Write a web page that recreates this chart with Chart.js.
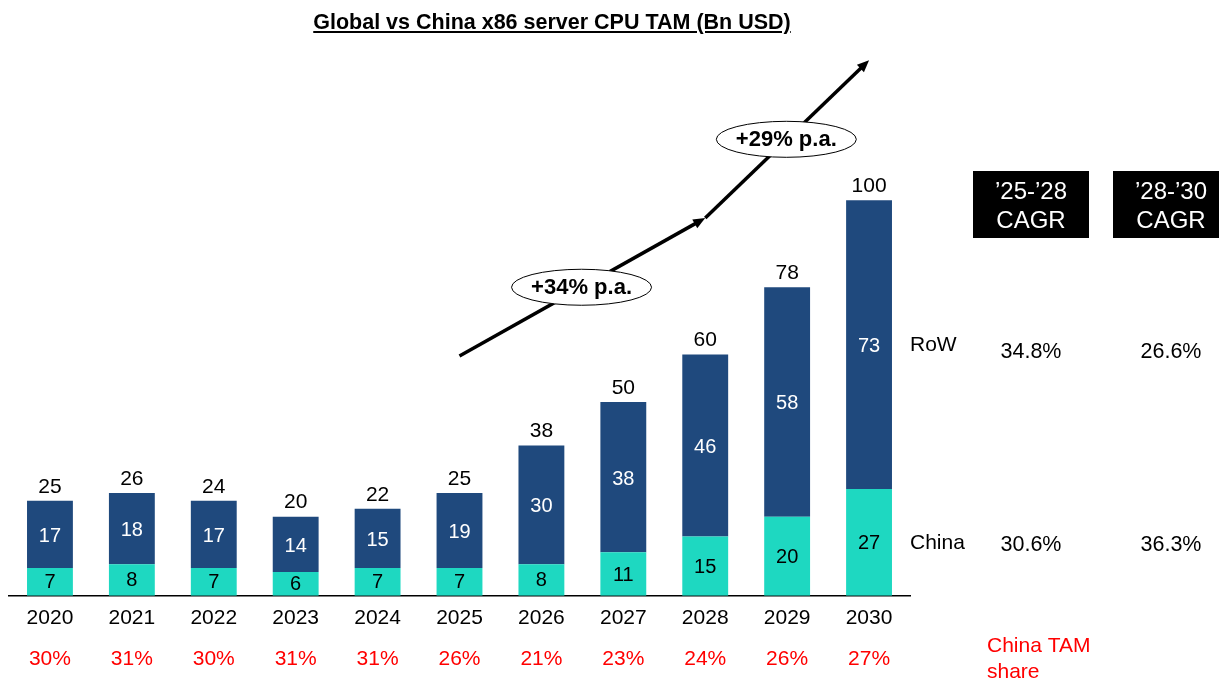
<!DOCTYPE html>
<html>
<head>
<meta charset="utf-8">
<title>Global vs China x86 server CPU TAM</title>
<script src="https://cdn.jsdelivr.net/npm/chart.js@4.4.1/dist/chart.umd.min.js"></script>
<style>
    html, body { margin: 0; padding: 0; background: #fff; }
    #wrap { position: relative; width: 1219px; height: 681px; overflow: hidden; }
    #title {
        position: absolute; left: 0; top: 11px; width: 1104px;
        text-align: center; font: bold 21.5px "Liberation Sans", Arial, sans-serif;
        line-height: 22px; text-decoration: underline; color: #000; margin: 0;
    }
    canvas { position: absolute; left: 0; top: 0; }
</style>
</head>
<body>
<div id="wrap">
    <canvas id="tamChart" width="1219" height="681"></canvas>
    <div id="title">Global vs China x86 server CPU TAM (Bn USD)</div>
</div>
<script>
// TAM by year, Bn USD
const years = ['2020', '2021', '2022', '2023', '2024', '2025', '2026', '2027', '2028', '2029', '2030'];
const chinaValues = [7, 8, 7, 6, 7, 7, 8, 11, 15, 20, 27];
const rowValues = [17, 18, 17, 14, 15, 19, 30, 38, 46, 58, 73];
const totalValues = [25, 26, 24, 20, 22, 25, 38, 50, 60, 78, 100];
const chinaShare = ['30%', '31%', '30%', '31%', '31%', '26%', '21%', '23%', '24%', '26%', '27%'];

// CAGR side table
const cagrHeaders = [['\u201925-\u201928', 'CAGR'], ['\u201928-\u201930', 'CAGR']];
const cagrRow = ['34.8%', '26.6%'];
const cagrChina = ['30.6%', '36.3%'];
const trendLabels = ['+34% p.a.', '+29% p.a.'];

const fontFam = '"Liberation Sans", Arial, sans-serif';
const navy = '#1F497D';
const teal = '#1ED8C1';
const red = '#FF0000';

function drawArrow(ctx, x1, y1, x2, y2) {
    const ang = Math.atan2(y2 - y1, x2 - x1);
    const head = 13;
    ctx.beginPath();
    ctx.moveTo(x1, y1);
    ctx.lineTo(x2 - Math.cos(ang) * head * 0.8, y2 - Math.sin(ang) * head * 0.8);
    ctx.stroke();
    ctx.beginPath();
    ctx.moveTo(x2, y2);
    ctx.lineTo(x2 - head * Math.cos(ang - 0.4), y2 - head * Math.sin(ang - 0.4));
    ctx.lineTo(x2 - head * Math.cos(ang + 0.4), y2 - head * Math.sin(ang + 0.4));
    ctx.closePath();
    ctx.fill();
}

function drawBubble(ctx, cx, cy, text) {
    ctx.beginPath();
    ctx.ellipse(cx, cy, 70, 18, 0, 0, Math.PI * 2);
    ctx.fillStyle = '#fff';
    ctx.fill();
    ctx.lineWidth = 1;
    ctx.strokeStyle = '#000';
    ctx.stroke();
    ctx.fillStyle = '#000';
    ctx.font = `bold 22px ${fontFam}`;
    ctx.fillText(text, cx, cy + 1);
}

const annotations = {
    id: 'annotations',
    afterDatasetsDraw(chart) {
        const { ctx, scales: { x, y } } = chart;
        const china = chart.getDatasetMeta(0).data;
        const row = chart.getDatasetMeta(1).data;
        ctx.save();
        ctx.textAlign = 'center';
        ctx.textBaseline = 'middle';

        // segment values, totals and China share
        years.forEach((yr, i) => {
            const c = china[i], r = row[i];
            ctx.font = `20px ${fontFam}`;
            ctx.fillStyle = '#000';
            ctx.fillText(chinaValues[i], c.x, (c.y + c.base) / 2 + 1);
            ctx.fillStyle = '#fff';
            ctx.fillText(rowValues[i], r.x, (r.y + r.base) / 2 + 2);
            ctx.fillStyle = '#000';
            ctx.font = `21px ${fontFam}`;
            ctx.fillText(totalValues[i], r.x, r.y - 14);
            ctx.fillStyle = red;
            ctx.fillText(chinaShare[i], x.getPixelForValue(i), 659);
        });

        // growth arrows: 2025 -> 2028 -> 2030
        ctx.strokeStyle = '#000';
        ctx.fillStyle = '#000';
        ctx.lineWidth = 3.5;
        drawArrow(ctx, x.getPixelForValue(5), y.getPixelForValue(60.6), x.getPixelForValue(8), y.getPixelForValue(95.5));
        drawArrow(ctx, x.getPixelForValue(8), y.getPixelForValue(95.5), x.getPixelForValue(10), y.getPixelForValue(135.4));
        drawBubble(ctx, x.getPixelForValue(6.49), y.getPixelForValue(78), trendLabels[0]);
        drawBubble(ctx, x.getPixelForValue(8.99), y.getPixelForValue(115.4), trendLabels[1]);

        // side table, rows aligned with the 2030 segments
        const last = years.length - 1;
        const rowY = (row[last].y + row[last].base) / 2;
        const chinaY = (china[last].y + china[last].base) / 2;
        ctx.textAlign = 'left';
        ctx.fillStyle = '#000';
        ctx.font = `21px ${fontFam}`;
        ctx.fillText('RoW', 910, rowY + 1);
        ctx.fillText('China', 910, chinaY + 1);

        const boxes = [{ x: 973, w: 116, cx: 1031 }, { x: 1113, w: 106, cx: 1171 }];
        ctx.textAlign = 'center';
        boxes.forEach((b, k) => {
            ctx.fillStyle = '#000';
            ctx.fillRect(b.x, 171, b.w, 67);
            ctx.fillStyle = '#fff';
            ctx.font = `24px ${fontFam}`;
            ctx.fillText(cagrHeaders[k][0], b.cx, 192);
            ctx.fillText(cagrHeaders[k][1], b.cx, 221);
            ctx.fillStyle = '#000';
            ctx.font = `21.5px ${fontFam}`;
            ctx.fillText(cagrRow[k], b.cx, rowY + 7);
            ctx.fillText(cagrChina[k], b.cx, chinaY + 3);
        });

        ctx.textAlign = 'left';
        ctx.fillStyle = red;
        ctx.font = `21px ${fontFam}`;
        ctx.fillText('China TAM', 987, 646);
        ctx.fillText('share', 987, 672);
        ctx.restore();
    }
};

document.addEventListener('DOMContentLoaded', () => {
    const ctx = document.getElementById('tamChart');
    new Chart(ctx, {
        type: 'bar',
        data: {
            labels: years,
            datasets: [
                { label: 'China', data: chinaValues, backgroundColor: teal, borderWidth: 0 },
                { label: 'RoW', data: rowValues, backgroundColor: navy, borderWidth: 0 }
            ]
        },
        options: {
            responsive: false,
            animation: false,
            layout: { padding: { left: 9, right: 309, top: 42, bottom: 40 } },
            datasets: { bar: { categoryPercentage: 1, barPercentage: 0.56 } },
            plugins: {
                legend: { display: false },
                tooltip: { enabled: false }
            },
            scales: {
                x: {
                    stacked: true,
                    grid: { display: false, drawTicks: false },
                    border: { display: true, color: '#000', width: 1.5 },
                    ticks: { color: '#000', font: { family: fontFam, size: 21 }, padding: 10 }
                },
                y: { stacked: true, display: false, min: 0, max: 140 }
            }
        },
        plugins: [annotations]
    });
});
</script>
</body>
</html>
